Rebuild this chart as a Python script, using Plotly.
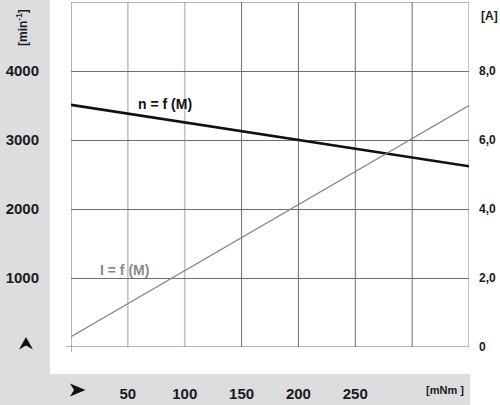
import plotly.graph_objects as go

# ---- data ----
torque = [0, 350]                 # mNm
speed = [3510, 2620]              # min^-1
current = [0.3, 7.0]              # A

x_tickvals = [50, 100, 150, 200, 250]
x_ticktext = ["50", "100", "150", "200", "250"]
y_tickvals = [1000, 2000, 3000, 4000]
y_ticktext = ["1000", "2000", "3000", "4000"]
y2_tickvals = [0, 2, 4, 6, 8]
y2_ticktext = ["0", "2,0", "4,0", "6,0", "8,0"]
light_grid = [50, 100]
dark_grid = [150, 200, 250, 300]

FONT = "Liberation Sans, Arial, sans-serif"
GREY_BG = "#dcdddf"
DARK = "#6e6e6e"
LIGHT = "#c2c2c2"
TXT = "#1a1a1a"

W, H = 500, 405
L, R, T, B = 71, 31, 2, 58
PW, PH = W - L - R, H - T - B


def px(x, y):
    return (x - L) / PW, (H - B - y) / PH


def path(points):
    s = ""
    for i, (x, y) in enumerate(points):
        xp, yp = px(x, y)
        s += ("M" if i == 0 else "L") + f"{xp:.5f},{yp:.5f} "
    return s + "Z"


fig = go.Figure()
fig.add_trace(go.Scatter(x=torque, y=speed, mode="lines",
                         line=dict(color="#111111", width=2.6), showlegend=False))
fig.add_trace(go.Scatter(x=torque, y=current, mode="lines", yaxis="y2",
                         line=dict(color="#858585", width=1.3), showlegend=False))

shapes = []
# white panels
x0, y0 = px(50, 0)
x1, y1 = px(500, 374)
shapes.append(dict(type="rect", xref="paper", yref="paper", x0=x0, y0=y1, x1=x1, y1=y0,
                   fillcolor="white", line=dict(width=0), layer="below"))
x0, y0 = px(470, 374)
x1, y1 = px(500, 405)
shapes.append(dict(type="rect", xref="paper", yref="paper", x0=x0, y0=y1, x1=x1, y1=y0,
                   fillcolor="white", line=dict(width=0), layer="below"))
# vertical grid
for v in light_grid:
    shapes.append(dict(type="line", xref="x", yref="paper", x0=v, x1=v, y0=0, y1=1,
                       line=dict(color=LIGHT, width=1.6), layer="below"))
for v in dark_grid:
    shapes.append(dict(type="line", xref="x", yref="paper", x0=v, x1=v, y0=0, y1=1,
                       line=dict(color=DARK, width=1), layer="below"))
# right frame
shapes.append(dict(type="line", xref="x", yref="paper", x0=350, x1=350, y0=0, y1=1,
                   line=dict(color=LIGHT, width=2), layer="below"))
# top frame
shapes.append(dict(type="line", xref="x", yref="y", x0=0, x1=350, y0=5000, y1=5000,
                   line=dict(color=DARK, width=1), layer="below"))
# bottom axis line (extends a little left)
xa, _ = px(66, 0)
shapes.append(dict(type="line", xref="paper", yref="y", x0=xa, x1=1, y0=0, y1=0,
                   line=dict(color=DARK, width=1), layer="below"))
# left axis line (extends a little down)
_, yb = px(0, 352)
shapes.append(dict(type="line", xref="x", yref="paper", x0=0, x1=0, y0=yb, y1=1,
                   line=dict(color=DARK, width=1), layer="below"))
# arrowheads
shapes.append(dict(type="path", xref="paper", yref="paper",
                   path=path([(26, 337), (33, 349.5), (26, 345.5), (19, 349.5)]),
                   fillcolor="#111111", line=dict(width=0)))
shapes.append(dict(type="path", xref="paper", yref="paper",
                   path=path([(85.5, 390), (70, 396.5), (74, 390), (70, 383.5)]),
                   fillcolor="#111111", line=dict(width=0)))

annotations = []


def ann(text, x, y, size, color=TXT, angle=0, xanchor="center", weight="bold"):
    xp, yp = px(x, y)
    annotations.append(dict(text=text, xref="paper", yref="paper", x=xp, y=yp,
                            xanchor=xanchor, yanchor="middle", showarrow=False,
                            textangle=angle,
                            font=dict(family=FONT, size=size, color=color, weight=weight)))


ann("[min<sup>-1</sup>]", 22, 28, 12, angle=-90)
ann("[A]", 479, 16, 12, xanchor="left")
ann("[mNm ]", 445, 390, 11)
ann("n = f (M)", 165, 104, 14, color="#111111")
ann("I = f (M)", 124, 270, 14, color="#8a8a8a")

fig.update_layout(
    width=W, height=H,
    margin=dict(l=L, r=R, t=T, b=B, pad=0, autoexpand=False),
    paper_bgcolor=GREY_BG, plot_bgcolor="white",
    xaxis=dict(range=[0, 350], showgrid=False, zeroline=False, showline=False,
               automargin=False,
               tickmode="array", tickvals=x_tickvals, ticktext=x_ticktext,
               ticks="", ticklabelstandoff=36,
               tickfont=dict(family=FONT, size=15, color=TXT, weight="bold")),
    yaxis=dict(range=[0, 5000], showgrid=True, gridcolor=DARK, gridwidth=1,
               zeroline=False, showline=False, automargin=False,
               tickmode="array", tickvals=y_tickvals, ticktext=y_ticktext,
               ticks="", ticklabelstandoff=31,
               tickfont=dict(family=FONT, size=15, color=TXT, weight="bold")),
    yaxis2=dict(range=[0, 10], overlaying="y", side="right", showgrid=False,
                zeroline=False, showline=False, automargin=False,
                tickmode="array", tickvals=y2_tickvals, ticktext=y2_ticktext,
                ticks="", ticklabelstandoff=9,
                tickfont=dict(family=FONT, size=12, color=TXT, weight="bold")),
    shapes=shapes, annotations=annotations, showlegend=False,
)

fig.write_html("out.html", config={"displayModeBar": False},
               post_script="document.body.style.margin='0';document.body.style.overflow='hidden';")
